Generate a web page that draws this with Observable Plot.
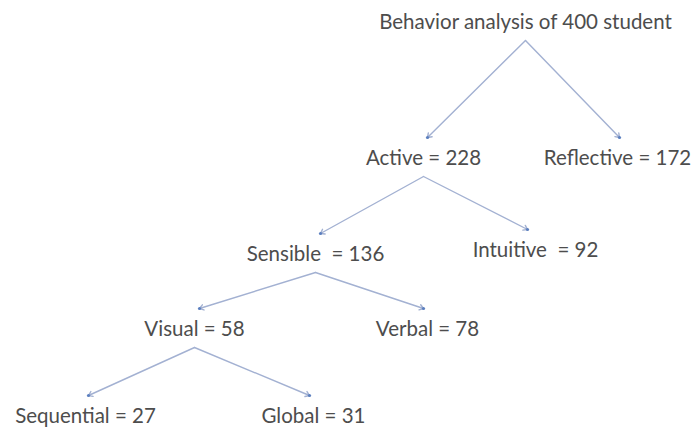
<!DOCTYPE html>
<html>
<head>
<meta charset="utf-8">
<script src="https://cdn.jsdelivr.net/npm/d3@7"></script>
<script src="https://cdn.jsdelivr.net/npm/@observablehq/plot@0.6"></script>
<style>
  html, body { margin: 0; padding: 0; background: #ffffff; }
  #chart svg { display: block; }
</style>
</head>
<body>
<div id="chart"></div>
<script>
// Node names and counts
const names = ["Behavior analysis of 400 student", "Active", "Reflective", "Sensible ", "Intuitive ", "Visual", "Verbal", "Sequential", "Global"];
const counts = [null, 228, 172, 136, 92, 58, 78, 27, 31];
// Layout coordinates of each node (diagram units)
const nodeX = [525, 423, 617, 315, 535, 194, 427, 85, 313];
const nodeY = [22, 158, 158, 254, 250, 329, 329, 416, 416];
// Tree edges (parent -> child index)
const edgeFrom = [0, 0, 1, 1, 3, 3, 5, 5];
const edgeTo   = [1, 2, 3, 4, 5, 6, 7, 8];
// Edge end points on the children (arrow tips)
const tipX = [427, 619, 320, 527, 199, 423, 88, 309];

const nodes = names.map((n, i) => ({
  label: counts[i] == null ? n : `${n} = ${counts[i]}`,
  x: nodeX[i], y: nodeY[i]
}));
const edges = edgeFrom.map((p, i) => ({
  x1: nodeX[p], y1: nodeY[p] + 18,
  x2: tipX[i], y2: nodeY[edgeTo[i]] - 21
}));

const chart = Plot.plot({
  width: 694,
  height: 431,
  margin: 0,
  x: {domain: [0, 694], range: [0, 694], axis: null},
  y: {domain: [0, 431], range: [0, 431], axis: null},
  style: {background: "#ffffff"},
  marks: [
    Plot.arrow(edges, {
      x1: "x1", y1: "y1", x2: "x2", y2: "y2",
      stroke: "#a3b1d2", strokeWidth: 1.4,
      headLength: 5, headAngle: 70
    }),
    Plot.dot(edges, {x: "x2", y: "y2", r: 1.6, fill: "#5b7fbf", stroke: "none"}),
    Plot.text(nodes, {
      x: "x", y: "y", text: "label",
      fontSize: 20.5, fill: "#4d4d4d",
      fontFamily: "Lato, 'Open Sans', sans-serif",
      textAnchor: "middle", lineAnchor: "middle"
    })
  ]
});
document.getElementById("chart").appendChild(chart);
</script>
</body>
</html>
